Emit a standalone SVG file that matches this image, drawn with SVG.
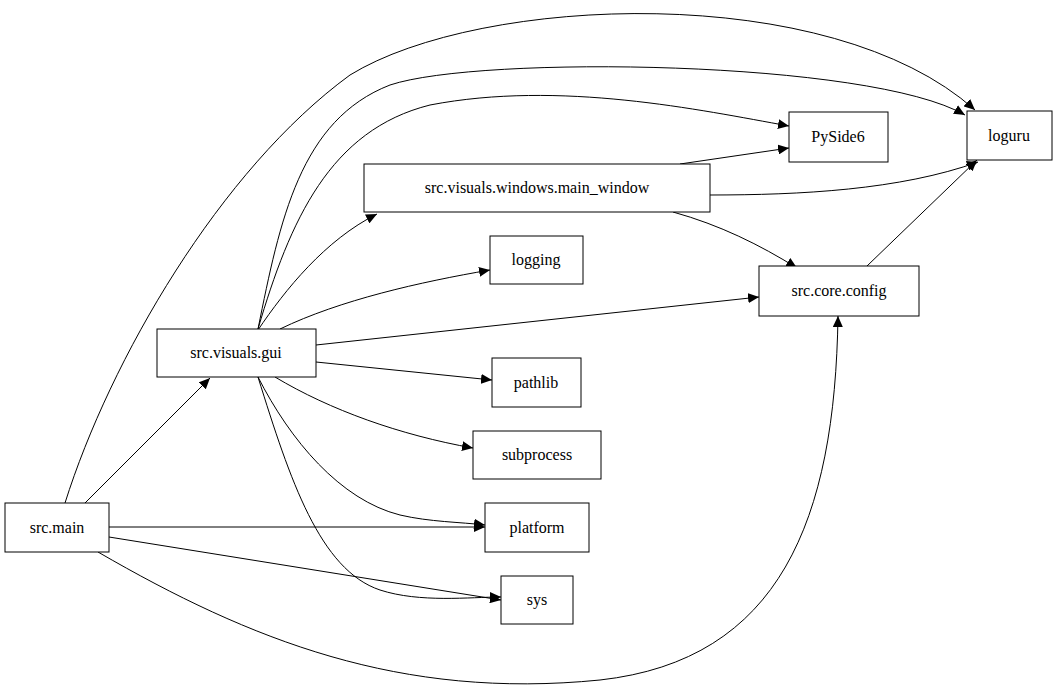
<svg xmlns="http://www.w3.org/2000/svg" width="1057" height="696" viewBox="0 0 1057 696">
<style>
.n rect{fill:#fff;stroke:#000;stroke-width:1}
.n text{font-family:'Liberation Serif','Times New Roman','DejaVu Serif',serif;font-size:16px;text-anchor:middle}
#edges path{fill:none;stroke:#000;stroke-width:1;marker-end:url(#a)}
</style>
<defs><marker id="a" markerUnits="userSpaceOnUse" markerWidth="12" markerHeight="10" refX="11" refY="5" orient="auto"><path d="M0,0 L11,5 L0,10 Z" fill="#000"/></marker></defs>
<rect width="1057" height="696" fill="#fff"/>
<g id="edges">
<path d="M65,503 C110,360 220,170 350,75 C480,-5 830,-20 975,110"/>
<path d="M258,329 C280,220 300,120 390,85 C480,55 870,60 965,115"/>
<path d="M258,329 C290,220 330,130 430,105 C560,80 700,110 789,126"/>
<path d="M258,330 C285,290 325,240 377,214"/>
<path d="M280,329 C340,300 420,282 490,270"/>
<path d="M316,345 L759,297"/>
<path d="M316,362 L492,380"/>
<path d="M275,377 C330,410 400,435 473,448"/>
<path d="M258,377 C290,440 340,500 400,515 C430,522 460,522 485,525"/>
<path d="M258,377 C290,480 320,570 380,590 C420,603 470,597 501,597"/>
<path d="M85,503 L210,378"/>
<path d="M109,527 L485,527"/>
<path d="M109,537 L501,600"/>
<path d="M98,552 C250,640 400,700 600,680 C780,660 835,520 838,316"/>
<path d="M680,164 L789,148"/>
<path d="M710,195 C800,195 900,190 978,162"/>
<path d="M673,212 C720,225 760,245 797,268"/>
<path d="M867,266 L977,160"/>
</g>
<g id="src_main" class="n"><rect x="5" y="503" width="104" height="49"/><text x="57" y="533" font-family="Liberation Serif, serif">src.main</text></g>
<g id="src_visuals_gui" class="n"><rect x="157" y="329" width="159" height="48"/><text x="236" y="358" font-family="Liberation Serif, serif">src.visuals.gui</text></g>
<g id="main_window" class="n"><rect x="364" y="164" width="346" height="48"/><text x="537" y="193" font-family="Liberation Serif, serif">src.visuals.windows.main_window</text></g>
<g id="logging" class="n"><rect x="490" y="236" width="93" height="48"/><text x="536" y="265" font-family="Liberation Serif, serif">logging</text></g>
<g id="pathlib" class="n"><rect x="492" y="358" width="89" height="49"/><text x="536" y="388" font-family="Liberation Serif, serif">pathlib</text></g>
<g id="subprocess" class="n"><rect x="473" y="431" width="128" height="48"/><text x="537" y="460" font-family="Liberation Serif, serif">subprocess</text></g>
<g id="platform" class="n"><rect x="485" y="503" width="104" height="49"/><text x="537" y="533" font-family="Liberation Serif, serif">platform</text></g>
<g id="sys" class="n"><rect x="501" y="576" width="72" height="48"/><text x="537" y="605" font-family="Liberation Serif, serif">sys</text></g>
<g id="PySide6" class="n"><rect x="789" y="112" width="99" height="50"/><text x="838" y="142" font-family="Liberation Serif, serif">PySide6</text></g>
<g id="loguru" class="n"><rect x="967" y="111" width="85" height="49"/><text x="1009" y="141" font-family="Liberation Serif, serif">loguru</text></g>
<g id="src_core_config" class="n"><rect x="759" y="266" width="160" height="50"/><text x="839" y="296" font-family="Liberation Serif, serif">src.core.config</text></g>
</svg>
